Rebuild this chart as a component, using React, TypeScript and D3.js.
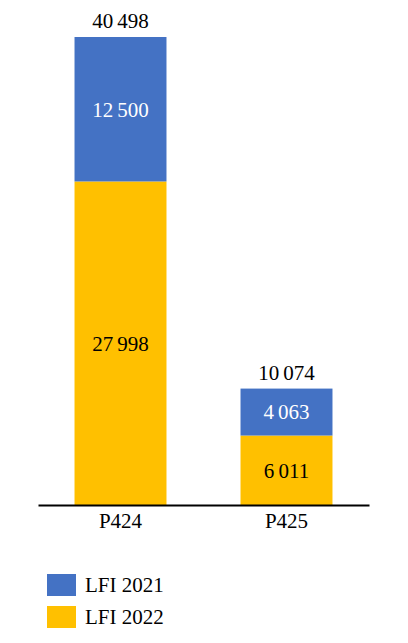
import React, { useEffect, useRef } from 'react';
import * as d3 from 'd3';

const categories = ['P424', 'P425'];
const lfi2022 = [27998, 6011];
const lfi2021 = [12500, 4063];
const seriesNames = ['LFI 2021', 'LFI 2022'];
const seriesColors = ['#4472C4', '#FFC000'];

const W = 408;
const H = 643;
const FONT = '"Liberation Serif", "DejaVu Serif", serif';

const StackedChart: React.FC = () => {
  const svgRef = useRef<SVGSVGElement>(null);

  useEffect(() => {
    if (!svgRef.current) return;
    const svg = d3.select(svgRef.current);
    svg.selectAll('*').remove();

    const fmt = d3.formatLocale({ decimal: ',', thousands: '\u2009', grouping: [3], currency: ['', ''] }).format(',d');

    const rows = categories.map((c, i) => ({ cat: c, a: lfi2022[i], b: lfi2021[i], total: lfi2022[i] + lfi2021[i] }));

    const x = d3.scaleBand().domain(categories).range([38, 369]).paddingInner(0.446).paddingOuter(0.22);
    const y = d3.scaleLinear().domain([0, d3.max(rows, (d) => d.total)!]).range([505, 37]);

    const g = svg.append('g');

    // bottom segment (LFI 2022)
    g.selectAll('rect.s22')
      .data(rows)
      .enter()
      .append('rect')
      .attr('x', (d) => x(d.cat)!)
      .attr('width', x.bandwidth())
      .attr('y', (d) => y(d.a))
      .attr('height', (d) => y(0) - y(d.a))
      .attr('fill', seriesColors[1]);

    // top segment (LFI 2021)
    g.selectAll('rect.s21')
      .data(rows)
      .enter()
      .append('rect')
      .attr('x', (d) => x(d.cat)!)
      .attr('width', x.bandwidth())
      .attr('y', (d) => y(d.total))
      .attr('height', (d) => y(d.a) - y(d.total))
      .attr('fill', seriesColors[0]);

    const cx = (d: any) => x(d.cat)! + x.bandwidth() / 2;

    g.selectAll('text.v22')
      .data(rows)
      .enter()
      .append('text')
      .attr('x', cx)
      .attr('y', (d) => (y(0) + y(d.a)) / 2)
      .attr('dy', '0.35em')
      .attr('text-anchor', 'middle')
      .attr('fill', '#000')
      .text((d) => fmt(d.a));

    g.selectAll('text.v21')
      .data(rows)
      .enter()
      .append('text')
      .attr('x', cx)
      .attr('y', (d) => (y(d.a) + y(d.total)) / 2)
      .attr('dy', '0.35em')
      .attr('text-anchor', 'middle')
      .attr('fill', '#fff')
      .text((d) => fmt(d.b));

    g.selectAll('text.tot')
      .data(rows)
      .enter()
      .append('text')
      .attr('x', cx)
      .attr('y', (d) => y(d.total) - 9)
      .attr('text-anchor', 'middle')
      .attr('fill', '#000')
      .text((d) => fmt(d.total));

    // x axis
    const axis = d3.axisBottom(x).tickSize(0).tickPadding(8);
    const ax = svg.append('g').attr('transform', `translate(0, ${y(0)})`).call(axis);
    ax.attr('font-family', null).attr('font-size', null);
    ax.select('.domain').attr('stroke', '#000').attr('stroke-width', 2);
    ax.selectAll('text').attr('fill', '#000');

    // legend
    const leg = svg
      .append('g')
      .selectAll('g')
      .data(seriesNames)
      .enter()
      .append('g')
      .attr('transform', (_, i) => `translate(47, ${574 + i * 32})`);
    leg.append('rect').attr('width', 29).attr('height', 22).attr('fill', (_, i) => seriesColors[i]);
    leg.append('text').attr('x', 38).attr('y', 11).attr('dy', '0.35em').attr('fill', '#000').text((d) => d);
  }, []);

  return (
    <svg
      ref={svgRef}
      width={W}
      height={H}
      fontFamily={FONT}
      fontSize={21}
      style={{ position: 'absolute', left: 0, top: 0 }}
    />
  );
};

export default function App() {
  return <StackedChart />;
}
